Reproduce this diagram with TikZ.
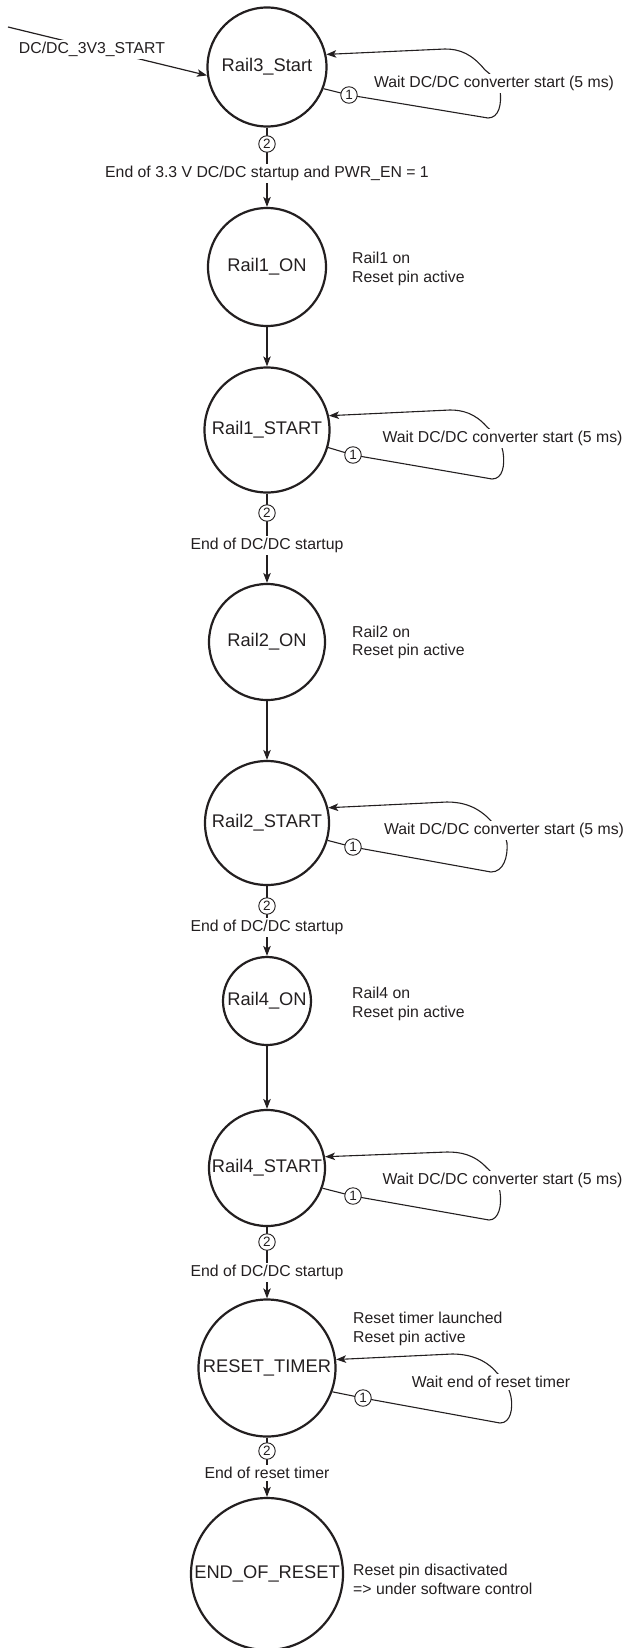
\documentclass[tikz,border=0pt]{standalone}
\usepackage{fontspec}
\setmainfont{Liberation Sans}
\usetikzlibrary{arrows.meta}
\definecolor{ink}{RGB}{35,31,32}
\begin{document}
\begin{tikzpicture}[x=1pt,y=-1pt,
  state/.style={circle,draw=ink,line width=2.2pt,inner sep=0pt,text=ink,font=\fontsize{18.3}{20}\selectfont},
  note/.style={anchor=west,inner sep=0pt,align=left,text=ink,font=\fontsize{15.8}{18.7}\selectfont},
  trans/.style={anchor=base,fill=white,inner sep=2.5pt,text=ink,font=\fontsize{15.8}{18}\selectfont},
  num/.style={circle,draw=ink,line width=0.9pt,fill=white,minimum size=16.5pt,inner sep=0pt,text=ink,font=\fontsize{13.5}{13.5}\selectfont},
  tip/.style={-{Stealth[length=10pt,width=7.5pt,inset=2.5pt]}},
  conn/.style={draw=ink,line width=1.2pt,tip},
  loopline/.style={draw=ink,line width=1.1pt,tip},
]
\path[use as bounding box] (0,0) rectangle (626,1648);

% states
\node[state,minimum size=119pt] (r3)   at (267,67)   {Rail3\_Start};
\node[state,minimum size=118pt] (r1on) at (267,267)  {Rail1\_ON};
\node[state,minimum size=125pt] (r1st) at (267,430)  {Rail1\_START};
\node[state,minimum size=116pt] (r2on) at (267,642)  {Rail2\_ON};
\node[state,minimum size=124pt] (r2st) at (267,823)  {Rail2\_START};
\node[state,minimum size=88pt]  (r4on) at (267,1001) {Rail4\_ON};
\node[state,minimum size=116pt] (r4st) at (267,1168) {Rail4\_START};
\node[state,minimum size=137pt] (rt)   at (267,1368) {RESET\_TIMER};
\node[state,minimum size=152pt] (eor)  at (267,1574) {END\_OF\_RESET};

% state notes
\node[note] (n1) at (352,269)  {Rail1 on\\Reset pin active};
\node[note] (n2) at (352,642.5){Rail2 on\\Reset pin active};
\node[note] (n4) at (352,1004) {Rail4 on\\Reset pin active};
\node[note] (nt) at (353,1329) {Reset timer launched\\Reset pin active};
\node[note] (ne) at (353,1579) {Reset pin disactivated\\=> under software control};

% entry arrow
\coordinate (entry) at (8,27);
\draw[conn] (entry) -- (r3.188);
\node[trans] (lentry) at (92,53.5) {DC/DC\_3V3\_START};

% forward transitions
\draw[conn] (r3) -- (r1on);
\draw[conn] (r1on) -- (r1st);
\draw[conn] (r1st) -- (r2on);
\draw[conn] (r2on) -- (r2st);
\draw[conn] (r2st) -- (r4on);
\draw[conn] (r4on) -- (r4st);
\draw[conn] (r4st) -- (rt);
\draw[conn] (rt) -- (eor);

% self loops
\draw[loopline] (r3.-21) -- (349,95) -- (488,118) .. controls (499,118) and (502,104) .. (500,90)
  .. controls (498,80) and (490,74) .. (485,70) .. controls (472,54) and (460,49) .. (445,49) -- (r3.12);
\draw[loopline] (r1st.-16) -- (353,455) -- (492,479) .. controls (503,479) and (505,465) .. (503,452)
  .. controls (501,440) and (493,432) .. (487,427) .. controls (475,413) and (462,410) .. (450,410) -- (r1st.13);
\draw[loopline] (r2st.-16) -- (353,847) -- (491,872) .. controls (504,872) and (508,856) .. (507,843)
  .. controls (505,832) and (497,826) .. (492,822) .. controls (478,806) and (462,802) .. (447,802) -- (r2st.14);
\draw[loopline] (r4st.-20) -- (353,1196) -- (489,1220) .. controls (499,1220) and (502,1205) .. (500,1192)
  .. controls (498,1180) and (492,1172) .. (487,1168) .. controls (474,1154) and (460,1152) .. (447,1152) -- (r4st.11);
\draw[loopline] (rt.-20) -- (363,1398) -- (500,1423) .. controls (511,1423) and (513,1408) .. (511,1397)
  .. controls (509,1386) and (502,1377) .. (497,1373) .. controls (485,1358) and (467,1354) .. (452,1354) -- (rt.7);

% loop labels and markers
\node[trans] (w3) at (494,87.5)    {Wait DC/DC converter start (5 ms)};
\node[trans] (w1) at (502.5,442.5) {Wait DC/DC converter start (5 ms)};
\node[trans] (w2) at (504,834.5)   {Wait DC/DC converter start (5 ms)};
\node[trans] (w4) at (502.5,1184.5){Wait DC/DC converter start (5 ms)};
\node[trans] (wt) at (491,1387.5)  {Wait end of reset timer};
\node[num] (a3) at (349,95)   {1};
\node[num] (a1) at (353,455)  {1};
\node[num] (a2) at (353,847)  {1};
\node[num] (a4) at (353,1196) {1};
\node[num] (at) at (363,1398) {1};

% forward transition labels and markers
\node[num] (b3) at (267,144)  {2};
\node[num] (b1) at (267,513)  {2};
\node[num] (b2) at (267,906)  {2};
\node[num] (b4) at (267,1242) {2};
\node[num] (bt) at (267,1451) {2};
\node[trans] (t3) at (267,177.5)  {End of 3.3 V DC/DC startup and PWR\_EN = 1};
\node[trans] (t1) at (267,549.5)  {End of DC/DC startup};
\node[trans] (t2) at (267,931.5)  {End of DC/DC startup};
\node[trans] (t4) at (267,1276.5) {End of DC/DC startup};
\node[trans] (tt) at (267,1478.5) {End of reset timer};
\end{tikzpicture}
\end{document}
